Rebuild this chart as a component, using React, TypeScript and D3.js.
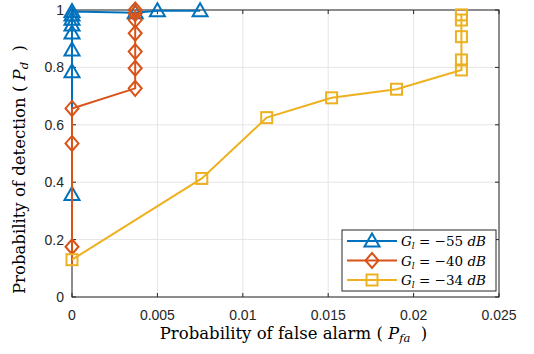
import React from "react";
import * as d3 from "d3";

const xTicks = [0, 0.005, 0.01, 0.015, 0.02, 0.025];
const xTickLabels = ["0", "0.005", "0.01", "0.015", "0.02", "0.025"];
const yTicks = [0, 0.2, 0.4, 0.6, 0.8, 1];
const yTickLabels = ["0", "0.2", "0.4", "0.6", "0.8", "1"];

const blueX = [0, 0, 0, 0, 0, 0, 0, 0, 0.0037, 0.005, 0.0075];
const blueY = [0.357, 0.785, 0.861, 0.92, 0.948, 0.968, 0.983, 0.995, 0.99, 0.997, 0.997];
const orangeX = [0, 0, 0, 0, 0.0037, 0.0037, 0.0037, 0.0037, 0.0037, 0.0037, 0.0037];
const orangeY = [0.115, 0.175, 0.535, 0.657, 0.727, 0.797, 0.855, 0.919, 0.965, 0.988, 1.0];
const orangeMarked = [false, true, true, true, true, true, true, true, true, true, true];
const yellowX = [0, 0.0076, 0.0114, 0.0152, 0.019, 0.0228, 0.0228, 0.0228, 0.0228, 0.0228];
const yellowY = [0.13, 0.413, 0.625, 0.694, 0.724, 0.791, 0.826, 0.907, 0.965, 0.983];

const seriesNames = ["−55", "−40", "−34"];
const seriesColors = ["#0072BD", "#D95319", "#EDB120"];
const seriesMarkers = ["triangle", "diamond", "square"];

const W = 534, H = 354;
const L = 72, R = 499, T = 10, B = 297;

function marker(kind: string, cx: number, cy: number, color: string, key: any) {
  if (kind === "triangle") {
    const p = `M${cx},${cy - 7.5} L${cx + 7.5},${cy + 5.5} L${cx - 7.5},${cy + 5.5} Z`;
    return <path key={key} d={p} fill="none" stroke={color} strokeWidth={2} strokeLinejoin="miter" />;
  }
  if (kind === "diamond") {
    const p = `M${cx},${cy - 7.5} L${cx + 6.5},${cy} L${cx},${cy + 7.5} L${cx - 6.5},${cy} Z`;
    return <path key={key} d={p} fill="none" stroke={color} strokeWidth={2} />;
  }
  return <rect key={key} x={cx - 5.5} y={cy - 5.5} width={11} height={11} fill="none" stroke={color} strokeWidth={2} />;
}

export default function App() {
  const x = d3.scaleLinear().domain([0, 0.025]).range([L, R]);
  const y = d3.scaleLinear().domain([0, 1]).range([B, T]);
  const line = d3.line<[number, number]>().x(d => x(d[0])).y(d => y(d[1]));
  const series = [
    blueX.map((v, i) => [v, blueY[i]] as [number, number]),
    orangeX.map((v, i) => [v, orangeY[i]] as [number, number]),
    yellowX.map((v, i) => [v, yellowY[i]] as [number, number]),
  ];
  const marked = [blueX.map(() => true), orangeMarked, yellowX.map(() => true)];
  const tickFont = "Liberation Sans, Arial, sans-serif";
  const serif = "DejaVu Serif, serif";
  const axisColor = "#262626";
  const lgX = 342, lgY = 230, lgW = 154, lgH = 61;
  return (
    <svg width={W} height={H} style={{ display: "block", position: "absolute", left: 0, top: 0 }}>
      <rect x={0} y={0} width={W} height={H} fill="#fff" />
      {xTicks.map((t, i) => (
        <line key={"gx" + i} x1={x(t)} x2={x(t)} y1={T} y2={B} stroke="#e5e5e5" strokeWidth={1} />
      ))}
      {yTicks.map((t, i) => (
        <line key={"gy" + i} x1={L} x2={R} y1={y(t)} y2={y(t)} stroke="#e5e5e5" strokeWidth={1} />
      ))}
      {xTicks.map((t, i) => (
        <g key={"tx" + i}>
          <line x1={x(t)} x2={x(t)} y1={B} y2={B - 4} stroke={axisColor} />
          <line x1={x(t)} x2={x(t)} y1={T} y2={T + 4} stroke={axisColor} />
          <text x={x(t)} y={B + 23} textAnchor="middle" fontFamily={tickFont} fontSize={14} fill={axisColor}>
            {xTickLabels[i]}
          </text>
        </g>
      ))}
      {yTicks.map((t, i) => (
        <g key={"ty" + i}>
          <line x1={L} x2={L + 4} y1={y(t)} y2={y(t)} stroke={axisColor} />
          <line x1={R} x2={R - 4} y1={y(t)} y2={y(t)} stroke={axisColor} />
          <text x={L - 8} y={y(t) + 5} textAnchor="end" fontFamily={tickFont} fontSize={14} fill={axisColor}>
            {yTickLabels[i]}
          </text>
        </g>
      ))}
      <rect x={L} y={T} width={R - L} height={B - T} fill="none" stroke={axisColor} strokeWidth={1} />
      {series.map((s, si) => (
        <g key={"s" + si}>
          <path d={line(s) || ""} fill="none" stroke={seriesColors[si]} strokeWidth={2} />
          {s.map((p, pi) => marked[si][pi] ? marker(seriesMarkers[si], x(p[0]), y(p[1]), seriesColors[si], pi) : null)}
        </g>
      ))}
      <rect x={lgX} y={lgY} width={lgW} height={lgH} fill="#fff" stroke={axisColor} strokeWidth={1} />
      {seriesNames.map((n, i) => {
        const ry = lgY + 11 + i * 19.5;
        return (
          <g key={"lg" + i}>
            <line x1={lgX + 5} x2={lgX + 55} y1={ry} y2={ry} stroke={seriesColors[i]} strokeWidth={2} />
            {marker(seriesMarkers[i], lgX + 30, ry, seriesColors[i], "m")}
            <text x={lgX + 59} y={ry + 5} fontFamily={serif} fontSize={13.5} fill="#000" style={{ whiteSpace: "pre" }}>
              <tspan fontStyle="italic">G</tspan>
              <tspan fontStyle="italic" fontSize={9} dy={3}>l</tspan>
              <tspan dy={-3}>{" = " + n + " "}</tspan>
              <tspan fontStyle="italic">dB</tspan>
            </text>
          </g>
        );
      })}
      <text x={(L + R) / 2 + 8} y={B + 42} textAnchor="middle" fontFamily={serif} fontSize={16.5} fill="#000" style={{ whiteSpace: "pre" }}>
        {"Probability of false alarm ( "}
        <tspan fontStyle="italic">P</tspan>
        <tspan fontStyle="italic" fontSize={11.5} dy={3}>fa</tspan>
        <tspan dy={-3}>{"  )"}</tspan>
      </text>
      <text transform={`translate(25, ${(T + B) / 2 + 16}) rotate(-90)`} textAnchor="middle" fontFamily={serif} fontSize={16.5} fill="#000" style={{ whiteSpace: "pre" }}>
        {"Probability of detection ( "}
        <tspan fontStyle="italic">P</tspan>
        <tspan fontStyle="italic" fontSize={11.5} dy={3}>d</tspan>
        <tspan dy={-3}>{"  )"}</tspan>
      </text>
    </svg>
  );
}
